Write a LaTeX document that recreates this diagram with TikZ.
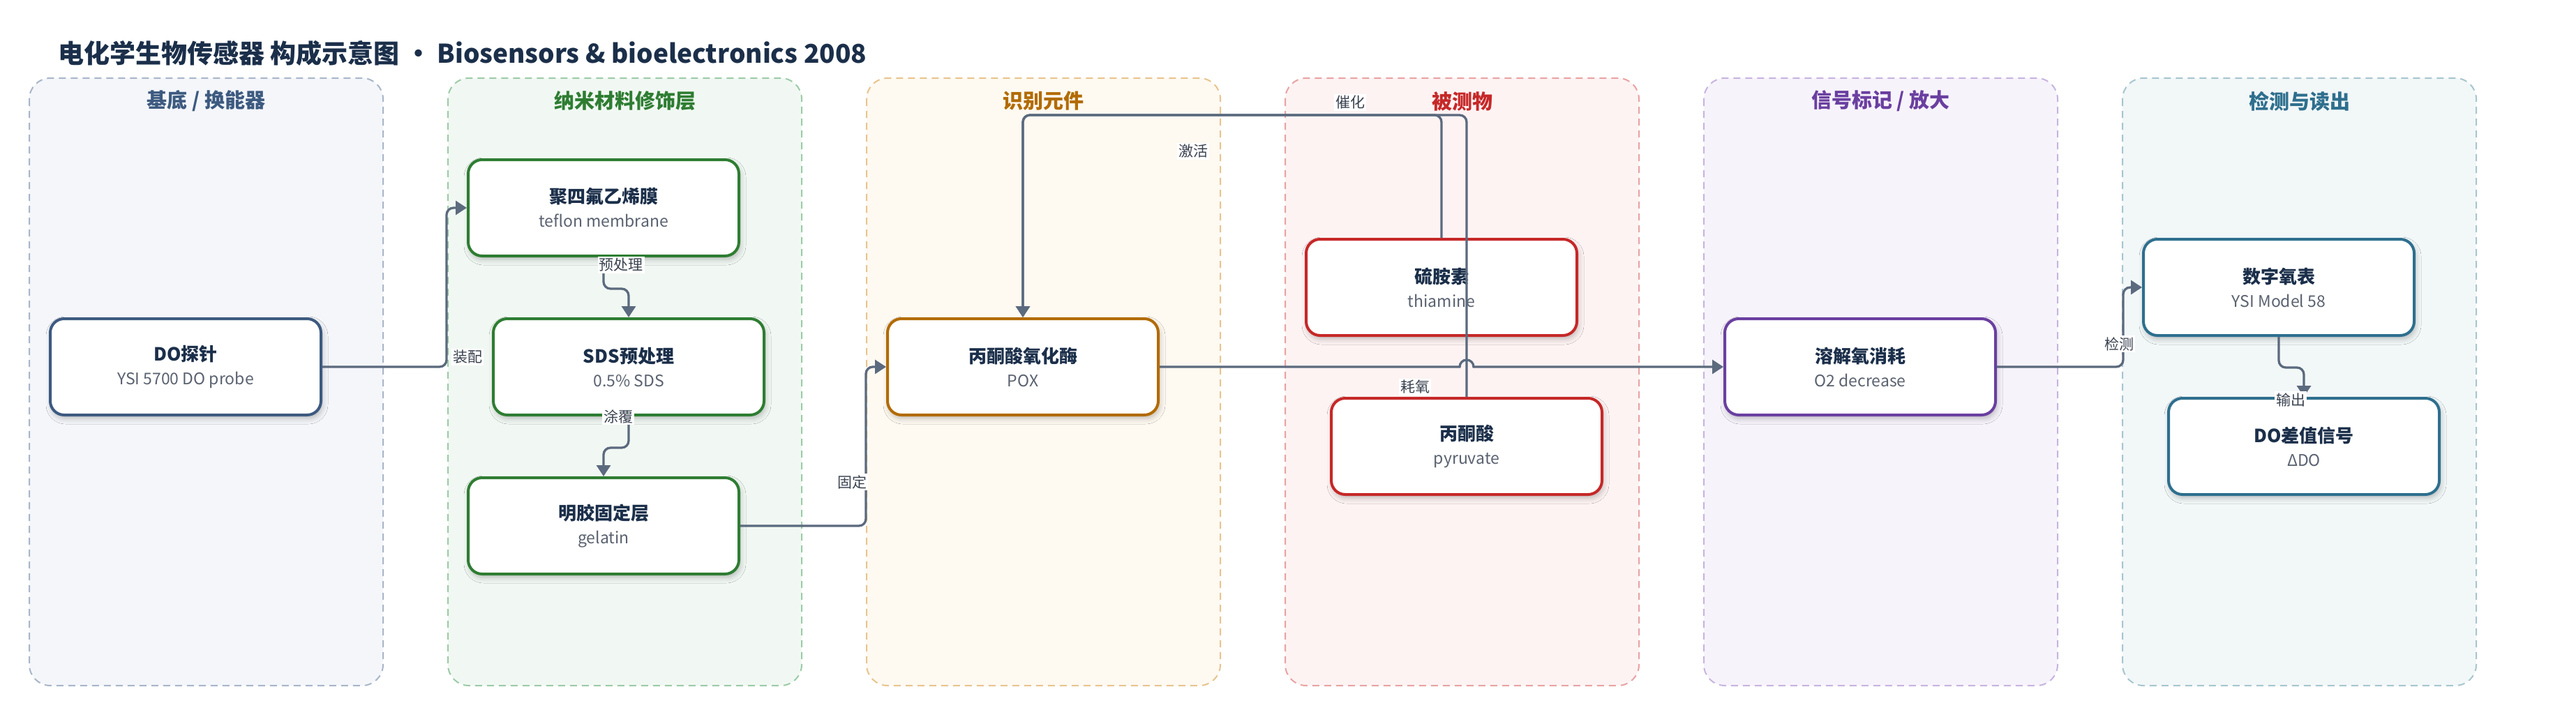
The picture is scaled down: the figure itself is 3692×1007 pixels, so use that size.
\documentclass[tikz,border=0pt]{standalone}
\usepackage{fontspec}
\setmainfont{Noto Sans CJK SC}
\usetikzlibrary{arrows.meta,shadows.blur}

\definecolor{titlenavy}{HTML}{1B2F4A}
\definecolor{edgegray}{HTML}{5B6A7E}
\definecolor{labelgray}{HTML}{3A4250}
\definecolor{subgray}{HTML}{5A6270}
\definecolor{laneAbg}{HTML}{F4F6FA}\definecolor{laneAline}{HTML}{A9B6C9}\definecolor{laneAtitle}{HTML}{3D5A80}
\definecolor{laneBbg}{HTML}{F1F8F3}\definecolor{laneBline}{HTML}{9DCBA8}\definecolor{laneBtitle}{HTML}{2E7D32}
\definecolor{laneCbg}{HTML}{FEF9F1}\definecolor{laneCline}{HTML}{E8C48E}\definecolor{laneCtitle}{HTML}{B26B00}
\definecolor{laneDbg}{HTML}{FDF3F3}\definecolor{laneDline}{HTML}{E8A3A3}\definecolor{laneDtitle}{HTML}{C62828}
\definecolor{laneEbg}{HTML}{F7F3FB}\definecolor{laneEline}{HTML}{C7B4DF}\definecolor{laneEtitle}{HTML}{6A3FA0}
\definecolor{laneFbg}{HTML}{F2F7F8}\definecolor{laneFline}{HTML}{A7C6CF}\definecolor{laneFtitle}{HTML}{2E6F8E}

\newcommand{\boxtext}[2]{{\bfseries #1}\\{\fontsize{11.5}{14}\selectfont\color{subgray}#2}}

\begin{document}
\begin{tikzpicture}[x=0.5pt, y=-0.5pt,
    lane/.style={dashed, dash pattern=on 5pt off 3.5pt, line width=1pt, rounded corners=15pt},
    box/.style={draw, rounded corners=10pt, fill=white, line width=2pt,
      minimum width=194pt, minimum height=69pt, align=center,
      font=\fontsize{13}{17}\selectfont, text=titlenavy,
      blur shadow={shadow xshift=1pt, shadow yshift=-2.5pt, shadow blur radius=4pt, shadow opacity=25}},
    flow/.style={draw=edgegray, line width=1.65pt, rounded corners=5pt, -{Triangle[length=8pt,width=10pt]}},
    elabel/.style={fill=white, inner sep=1pt, text=labelgray, font=\fontsize{10.5}{12}\selectfont}]

  \fill[white] (0,0) rectangle (3692,1007);
  \useasboundingbox (0,0) rectangle (3692,1007);

  \node[anchor=west, text=titlenavy, font=\fontsize{18.5}{22}\selectfont\bfseries] (title) at (76,76)
    {电化学生物传感器 构成示意图 · Biosensors \& bioelectronics 2008};

  % lanes
  \foreach \i/\name/\c in {0/{基底 / 换能器}/A, 1/纳米材料修饰层/B, 2/识别元件/C,
                           3/被测物/D, 4/{信号标记 / 放大}/E, 5/检测与读出/F} {
    \draw[lane, draw=lane\c line, fill=lane\c bg] ({42+600*\i},112) rectangle ++(507,871);
    \node[font=\fontsize{14.5}{17}\selectfont\bfseries, text=lane\c title] (lt\i) at ({295.5+600*\i},145) {\name};
  }

  \node[box, draw=laneAtitle] (probe)    at (266, 526) {\boxtext{DO探针}{YSI 5700 DO probe}};
  \node[box, draw=laneBtitle] (teflon)   at (865, 298) {\boxtext{聚四氟乙烯膜}{teflon membrane}};
  \node[box, draw=laneBtitle] (sds)      at (901, 526) {\boxtext{SDS预处理}{0.5\% SDS}};
  \node[box, draw=laneBtitle] (gelatin)  at (865, 754) {\boxtext{明胶固定层}{gelatin}};
  \node[box, draw=laneCtitle] (pox)      at (1466,526) {\boxtext{丙酮酸氧化酶}{POX}};
  \node[box, draw=laneDtitle] (thiamine) at (2066,412) {\boxtext{硫胺素}{thiamine}};
  \node[box, draw=laneDtitle] (pyruvate) at (2102,640) {\boxtext{丙酮酸}{pyruvate}};
  \node[box, draw=laneEtitle] (oxygen)   at (2666,526) {\boxtext{溶解氧消耗}{O2 decrease}};
  \node[box, draw=laneFtitle] (meter)    at (3266,412) {\boxtext{数字氧表}{YSI Model 58}};
  \node[box, draw=laneFtitle] (delta)    at (3302,640) {\boxtext{DO差值信号}{ΔDO}};

  \coordinate (top) at (0,165);

  \draw[flow] (probe.east) -| ([xshift=-14.5pt]teflon.west) -- (teflon.west);
  \draw[flow] (teflon.south) -- ++(0,45) -| (sds.north);
  \draw[flow] (sds.south) -- ++(0,45) -| (gelatin.north);
  \draw[flow] (gelatin.east) -| ([xshift=-14.5pt]pox.west) -- (pox.west);
  \draw[flow] (thiamine.north) -- (thiamine.north |- top) -| (pox.north);
  \draw[flow] (pyruvate.north) -- (pyruvate.north |- top) -| (pox.north);
  \draw[flow, sharp corners] (pox.east) -- ([xshift=-5pt]pyruvate.north |- pox.east)
    arc[start angle=180, end angle=0, radius=5pt] -- (oxygen.west);
  \draw[flow] (oxygen.east) -| ([xshift=-13.5pt]meter.west) -- (meter.west);
  \draw[flow] (meter.south) -- ++(0,44) -| (delta.north);

  \node[elabel] (l1) at (670, 512) {装配};
  \node[elabel] (l2) at (890, 380) {预处理};
  \node[elabel] (l3) at (886, 597) {涂覆};
  \node[elabel] (l4) at (1221,691) {固定};
  \node[elabel] (l5) at (1710,217) {激活};
  \node[elabel] (l6) at (1935,147) {催化};
  \node[elabel] (l7) at (2028,555) {耗氧};
  \node[elabel] (l8) at (3037,493) {检测};
  \node[elabel] (l9) at (3283,573) {输出};

\end{tikzpicture}
\end{document}
